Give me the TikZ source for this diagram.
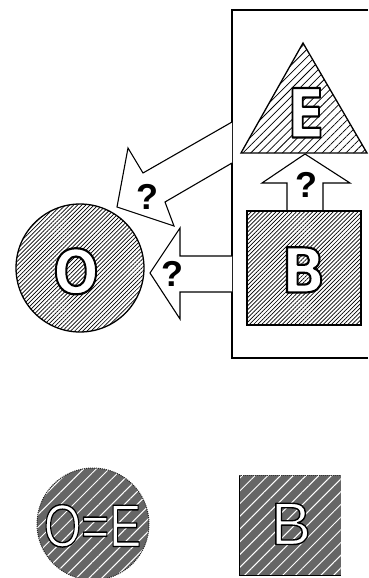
\documentclass[tikz,border=0pt]{standalone}
\usepackage{fontspec}
\setmainfont{Liberation Sans}
\newfontfamily\heavyfont{DejaVu Sans}
\usetikzlibrary{patterns.meta}
\tikzset{
  outline/.style={line width=1.3pt, line join=miter},
  blockarrow/.style={draw=black, fill=white, line width=1.1pt, line join=miter},
  fine hatch/.style={pattern={Lines[angle=45,distance=2.9pt,line width=0.7pt]}},
  coarse hatch/.style={pattern={Lines[angle=45,distance=5.6pt,line width=0.75pt]}},
  dither/.style={fill=black!60},
  white hatch/.style={pattern={Lines[angle=45,distance=9pt,line width=1pt]}, pattern color=white},
  qmark/.style={inner sep=0pt, font=\fontsize{36}{36}\bfseries\selectfont, text=black},
  letter/.style={anchor=base, inner sep=0pt},
}
% white text with a black outline (PDF fill-and-stroke text mode)
\newcommand\olt[2]{%
  {\color{white}\special{pdf:literal direct 0 G 1 j #1 w 2 Tr}#2\special{pdf:literal direct 0 Tr}}}
\begin{document}
\begin{tikzpicture}[x=1pt,y=-1pt]
\useasboundingbox (0,0) rectangle (368,578);
% frame (right side runs off the picture)
\draw[outline] (368,10) -- (232,10) -- (232,358) -- (368,358);
% diagonal block arrow from the frame to O
\draw[blockarrow] (232,122) coordinate (d1) -- (143,173) -- (128,148) -- (117,207) coordinate (dtip)
   -- (174,226) -- (165,202) -- (232,163) coordinate (d2);
\node[qmark] (q1) at (147,197) {?};
% horizontal block arrow from the frame to O
\draw[blockarrow] (232,256) coordinate (h1) -- (180,256) -- (180,228) -- (150,273) coordinate (htip)
   -- (180,319) -- (180,292) -- (232,292) coordinate (h2);
\node[qmark] (q2) at (172,274) {?};
% up block arrow from B to E
\draw[blockarrow] (287,211) coordinate (u1) -- (287,183) -- (262,183) -- (305,154) coordinate (utip)
   -- (350,183) -- (323,183) -- (323,211) coordinate (u2);
\node[qmark] (q3) at (306,185) {?};
% triangle E
\draw[outline, coarse hatch] (303,43) -- (241,153) -- (367,153) -- cycle;
\node[letter, font=\heavyfont\fontsize{68}{68}\bfseries\selectfont] (E) at (306,137.5)
  {\olt{2.2}{\scalebox{0.8}[1]{E}}};
% square B
\draw[outline, fine hatch] (247,211) rectangle (361,325);
\node[letter, font=\heavyfont\fontsize{62}{62}\bfseries\selectfont] (B) at (303.5,292.5)
  {\olt{2.2}{\scalebox{0.92}[1]{B}}};
% circle O
\draw[outline, fine hatch] (80,268) circle[radius=64pt];
\node[letter, font=\heavyfont\fontsize{61}{61}\bfseries\selectfont] (O) at (76,293.5)
  {\olt{2.2}{\scalebox{0.88}[1]{O}}};
% bottom: circle O=E
\fill[dither] (93,524) circle[radius=56pt];
\fill[white hatch] (93,524) circle[radius=56pt];
\draw[black!85, line width=1pt, densely dotted] (93,524) circle[radius=56pt];
\node[letter, font=\fontsize{60}{60}\selectfont] (OE) at (92.5,546.5)
  {\olt{1.4}{\scalebox{0.8}[1]{O=E}}};
% bottom: square B
\fill[dither] (239,475) rectangle (341,575);
\fill[white hatch] (239,475) rectangle (341,575);
\draw[black, line width=1pt] (239,475) -- (239,575) -- (341,575);
\draw[black!80, line width=1pt, densely dotted] (239,475) -- (341,475);
\node[letter, font=\fontsize{60}{60}\selectfont] (B2) at (291,544.5) {\olt{1.4}{B}};
\end{tikzpicture}
\end{document}
